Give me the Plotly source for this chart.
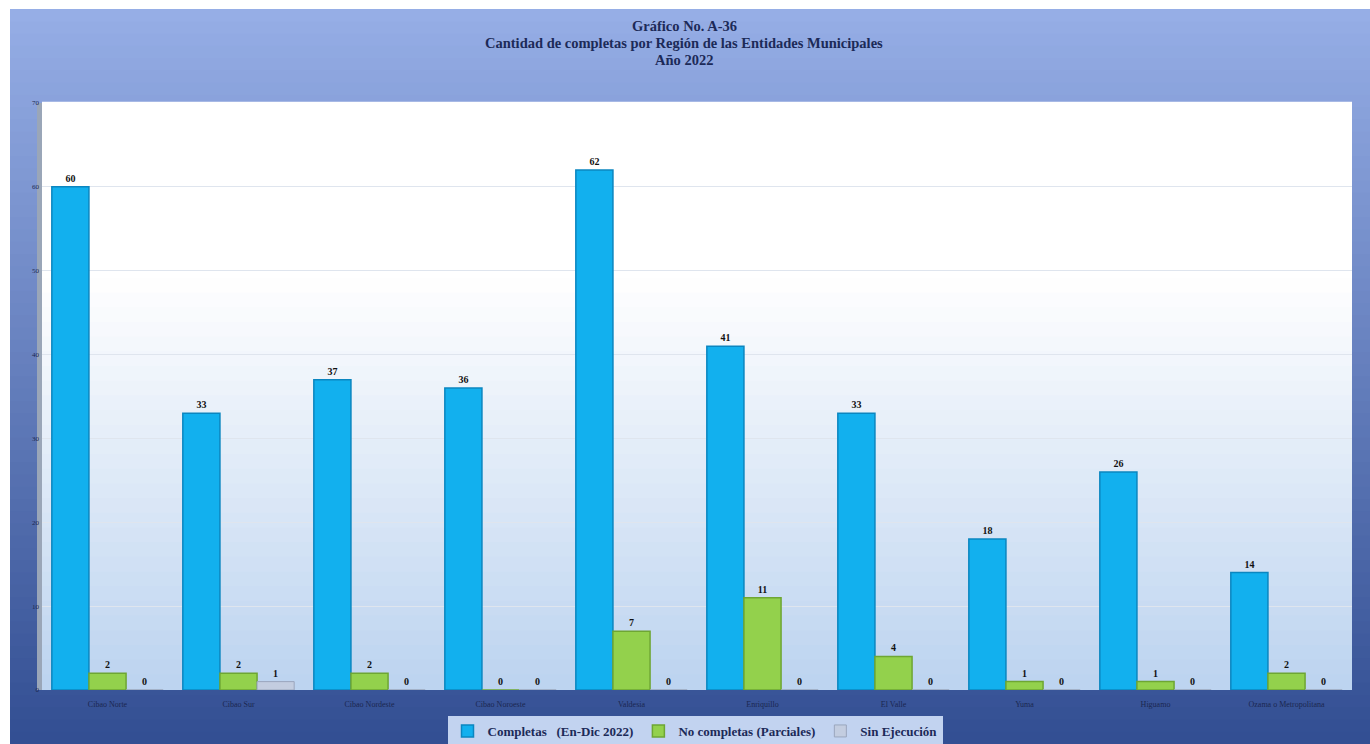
import plotly.graph_objects as go

# Datos por región
regiones = ['Cibao Norte', 'Cibao Sur', 'Cibao Nordeste', 'Cibao Noroeste', 'Valdesia',
            'Enriquillo', 'El Valle', 'Yuma', 'Higuamo', 'Ozama o Metropolitana']
completas = [60, 33, 37, 36, 62, 41, 33, 18, 26, 14]
parciales = [2, 2, 2, 0, 7, 11, 4, 1, 1, 2]
sin_ejecucion = [0, 1, 0, 0, 0, 0, 0, 0, 0, 0]
y_ticks = [0, 10, 20, 30, 40, 50, 60, 70]
titulo = ['Gráfico No. A-36',
          'Cantidad de completas por Región de las Entidades Municipales',
          'Año 2022']

W, H = 1370, 744
L, R, T, B = 42, 18, 103, 54
pw, ph = W - L - R, H - T - B

def px2paper(x, y):
    # pixeles de la página -> coordenadas paper
    return (x - L) / pw, (H - B - y) / ph

def mix(c1, c2, t):
    return '#%02x%02x%02x' % tuple(int(a + (b - a) * t) for a, b in zip(c1, c2))

shapes = []
# fondo con degradado azul
n = 60
top_c, bot_c = (0x96, 0xae, 0xe6), (0x33, 0x4f, 0x93)
for i in range(n):
    y0 = 9 + (H - 9) * i / n
    y1 = 9 + (H - 9) * (i + 1) / n + 1
    x0p, y0p = px2paper(10, y0)
    x1p, y1p = px2paper(W, y1)
    shapes.append(dict(type='rect', xref='paper', yref='paper', x0=x0p, x1=x1p, y0=y1p, y1=y0p,
                       fillcolor=mix(top_c, bot_c, i / (n - 1)), line_width=0, layer='below'))
# área de trazado: blanco a celeste
m = 40
for i in range(m):
    t = i / (m - 1)
    c = mix((0xff, 0xff, 0xff), (0xbd, 0xd4, 0xf0), max(0, (t - 0.3) / 0.7))
    shapes.append(dict(type='rect', xref='paper', yref='paper', x0=0, x1=1,
                       y0=1 - (i + 1) / m, y1=1 - i / m + 0.002,
                       fillcolor=c, line_width=0, layer='below'))
# pared izquierda
shapes.append(dict(type='rect', xref='paper', yref='paper', x0=px2paper(37, 0)[0], x1=0,
                   y0=0, y1=1, fillcolor='#9aa6b8', line_width=0, layer='below'))

font_serif = 'Liberation Serif'
lbl_font = dict(family=font_serif, size=10, color='#111111')

def bold(v):
    return ['<b>%d</b>' % x for x in v]

fig = go.Figure()
fig.add_trace(go.Bar(name='<b>Completas   (En-Dic 2022)</b>', x=regiones, y=completas,
                     marker=dict(color='#12b0ee', line=dict(color='#0b86c0', width=1.5)),
                     text=bold(completas), textposition='outside', textfont=lbl_font, cliponaxis=False))
fig.add_trace(go.Bar(name='<b>No completas (Parciales)</b>', x=regiones, y=parciales,
                     marker=dict(color='#93d14c', line=dict(color='#6ea633', width=1.5)),
                     text=bold(parciales), textposition='outside', textfont=lbl_font, cliponaxis=False))
fig.add_trace(go.Bar(name='<b>Sin Ejecución</b>', x=regiones, y=sin_ejecucion,
                     marker=dict(color='#c3cde0', line=dict(color='#9aa6bd', width=1)),
                     text=bold(sin_ejecucion), textposition='outside', textfont=lbl_font, cliponaxis=False))

# título en tres líneas
annotations = []
for texto, ypx in zip(titulo, [26, 43, 60]):
    annotations.append(dict(text='<b>%s</b>' % texto, xref='paper', yref='paper',
                            x=px2paper(684, 0)[0], y=px2paper(0, ypx)[1],
                            xanchor='center', yanchor='middle', showarrow=False,
                            font=dict(family=font_serif, size=14.5, color='#1c2a58')))

fig.update_layout(
    width=W, height=H,
    margin=dict(l=L, r=R, t=T, b=B, autoexpand=False),
    paper_bgcolor='white', plot_bgcolor='rgba(0,0,0,0)',
    barmode='group', bargap=0.15, bargroupgap=0,
    shapes=shapes, annotations=annotations,
    font=dict(family=font_serif),
    xaxis=dict(tickfont=dict(family=font_serif, size=8, color='#1a2750'), showgrid=False,
               showline=False, ticks='', ticklabelstandoff=8),
    yaxis=dict(range=[0, 70], tickvals=y_ticks, showgrid=True, gridcolor='#dfe5ee', gridwidth=1,
               tickfont=dict(family=font_serif, size=7, color='#1a2750'), zeroline=False,
               showline=False, ticks='', ticklabelstandoff=2),
    legend=dict(orientation='h', xref='container', yref='container', x=695 / W, xanchor='center',
                y=1 - 716 / H, yanchor='top', bgcolor='#c2d3f0', bordercolor='#c2d3f0', borderwidth=0,
                font=dict(family=font_serif, size=13, color='#1c2a58'),
                itemwidth=30, traceorder='normal', tracegroupgap=0),
)

# sin margen en el body para que la figura ocupe toda la ventana
fig.write_html('out.html', config={'displayModeBar': False},
               post_script="document.body.style.margin='0';document.body.style.overflow='hidden';")
